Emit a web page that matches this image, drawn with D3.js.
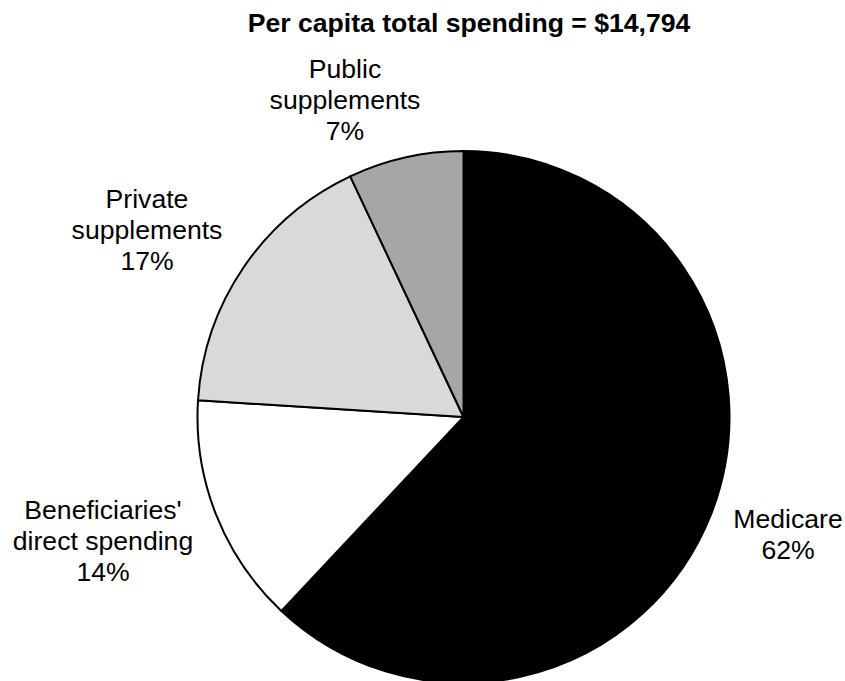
<!DOCTYPE html>
<html>
<head>
<meta charset="utf-8">
<script src="https://cdn.jsdelivr.net/npm/d3@7"></script>
<style>
  body { margin: 0; background: #fff; }
  text { font-family: "Liberation Sans", Arial, sans-serif; fill: #000; }
</style>
</head>
<body>
<script>
// spending shares, clockwise from 12 o'clock
var categories = ["Medicare", "Beneficiaries' direct spending", "Private supplements", "Public supplements"];
var shares = [62, 14, 17, 7];
var fills = ["#000000", "#ffffff", "#d9d9d9", "#a6a6a6"];
var title = "Per capita total spending = $14,794";

// label lines and anchor points for each slice
var labelLines = [
    ["Medicare", "62%"],
    ["Beneficiaries'", "direct spending", "14%"],
    ["Private", "supplements", "17%"],
    ["Public", "supplements", "7%"]
];
var labelPos = [[788, 528], [103, 519], [147, 208], [345, 78]];

function init() {
    var w = 845;
    var h = 681;
    var cx = 463.5, cy = 417, r = 266;

    var svg = d3.select("body")
                .append("svg")
                .attr("width", w)
                .attr("height", h);

    var data = categories.map(function (c, i) {
        return { name: c, value: shares[i], fill: fills[i] };
    });

    var pie = d3.pie()
                .sort(null)
                .value(function (d) { return d.value; });

    var arc = d3.arc()
                .innerRadius(0)
                .outerRadius(r);

    var g = svg.append("g")
               .attr("transform", "translate(" + cx + "," + cy + ")");

    g.selectAll("path")
        .data(pie(data))
        .enter()
        .append("path")
        .attr("d", arc)
        .attr("fill", function (d) { return d.data.fill; })
        .attr("stroke", "#000")
        .attr("stroke-width", 2)
        .attr("stroke-linejoin", "round");

    // title
    svg.append("text")
        .attr("x", 469)
        .attr("y", 32)
        .attr("text-anchor", "middle")
        .attr("font-size", "26.6px")
        .attr("font-weight", "bold")
        .text(title);

    // slice labels, several lines each
    var labels = svg.selectAll("text.lbl")
        .data(labelLines)
        .enter()
        .append("text")
        .attr("class", "lbl")
        .attr("text-anchor", "middle")
        .attr("font-size", "26.6px")
        .attr("transform", function (d, i) {
            return "translate(" + labelPos[i][0] + "," + labelPos[i][1] + ")";
        });

    labels.selectAll("tspan")
        .data(function (d) { return d; })
        .enter()
        .append("tspan")
        .attr("x", 0)
        .attr("y", function (d, i) { return i * 31; })
        .text(function (d) { return d; });
}

window.onload = init;
</script>
</body>
</html>
